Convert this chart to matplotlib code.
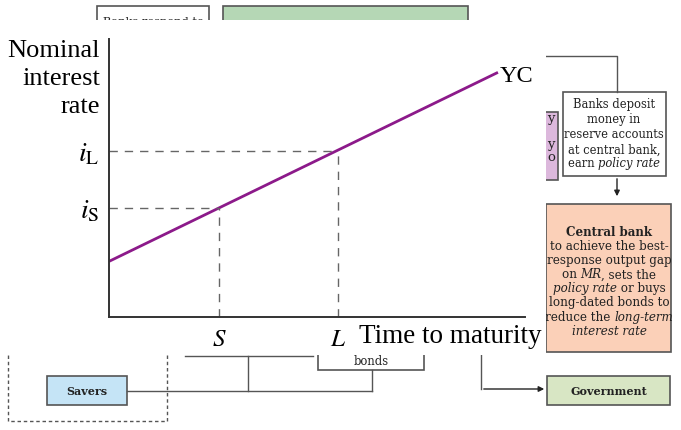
import matplotlib
matplotlib.use("Agg")
import matplotlib.pyplot as plt
from matplotlib.patches import Rectangle

plt.rcParams['font.family'] = ['Liberation Serif', 'DejaVu Serif']
plt.rcParams['mathtext.fontset'] = 'stix'

# ---- data ----
curve_x = [0.0, 9.35]
curve_y = [2.0, 8.8]
maturity_ticks = [2.65, 5.5]
maturity_labels = ['$S$', '$L$']
rate_ticks = [3.93, 5.97]
rate_labels = [r'$i_{\mathrm{S}}$', r'$i_{\mathrm{L}}$']

W, H = 681, 431
fig = plt.figure(figsize=(W/100, H/100), dpi=100)
renderer = fig.canvas.get_renderer()

# background flowchart (pixel coordinates)
bg = fig.add_axes([0, 0, 1, 1])
bg.set_xlim(0, W); bg.set_ylim(H, 0); bg.axis('off')
edge = '#555555'
FLOW_FONT = ['DejaVu Serif']
fs = 8.3

def box(x0, y0, x1, y1, fc='white', ls='-', lw=1.2, ec=edge):
    bg.add_patch(Rectangle((x0, y0), x1-x0, y1-y0, fc=fc, ec=ec, lw=lw, ls=ls))

def rich_line(xc, y, segments, size=fs, weight='normal'):
    objs, widths = [], []
    for s, it in segments:
        t = bg.text(0, y, s, fontsize=size, family=FLOW_FONT, fontweight=weight,
                    style='italic' if it else 'normal', ha='left', va='center',
                    color='#222222')
        objs.append(t)
        widths.append(t.get_window_extent(renderer).width)
    x = xc - sum(widths) / 2
    for t, w in zip(objs, widths):
        t.set_x(x)
        x += w

def rich_block(xc, ys, lines, size=fs):
    for y, segs in zip(ys, lines):
        rich_line(xc, y, segs, size)

# top
box(97, 7, 209, 45)
rich_line(153, 22, [('Banks respond to', False)], size=8.2)
box(223, 7, 468, 45, fc='#b5d7b5')
# right column
bg.plot([546, 617, 617], [57, 57, 93], color=edge, lw=1)
box(538, 113, 558, 181, fc='#dcb8dc')
rich_line(551, 119, [('y', False)], size=9.5)
rich_line(551, 145, [('y', False)], size=9.5)
rich_line(551, 158, [('o', False)], size=9.5)
box(563, 93, 666, 177)
rich_block(614, [105, 120, 135, 150, 164],
           [[('Banks deposit', False)], [('money in', False)],
            [('reserve accounts', False)], [('at central bank,', False)],
            [('earn ', False), ('policy rate', True)]], size=8.3)
bg.annotate('', xy=(617, 200), xytext=(617, 177),
            arrowprops=dict(arrowstyle='-|>', color='#222222', lw=1, mutation_scale=8))
box(546, 205, 671, 353, fc='#fbd0b8')
rich_line(609, 233, [('Central bank', False)], size=8.6, weight='bold')
rich_block(609, [247, 261, 275, 289, 303, 318, 332],
           [[('to achieve the best-', False)],
            [('response output gap', False)],
            [('on ', False), ('MR', True), (', sets the', False)],
            [('policy rate', True), (' or buys', False)],
            [('long-dated bonds to', False)],
            [('reduce the ', False), ('long-term', True)],
            [('interest rate', True)]], size=8.6)
# bottom
box(8, 340, 167, 422, ls=(0, (2.5, 2)), lw=1)
box(318, 330, 424, 371)
rich_line(371, 362, [('bonds', False)])
bg.plot([185, 313], [357, 357], color=edge, lw=1)
bg.plot([248, 248], [357, 392], color=edge, lw=1)
bg.plot([127, 372], [392, 392], color=edge, lw=1)
bg.plot([372, 372], [371, 392], color=edge, lw=1)
box(47, 377, 127, 406, fc='#c5e4f6')
rich_line(87, 392, [('Savers', False)], size=8.0, weight='bold')
bg.plot([481, 481], [340, 390], color=edge, lw=1)
bg.annotate('', xy=(547, 390), xytext=(481, 390),
            arrowprops=dict(arrowstyle='-|>', color='#222222', lw=1, mutation_scale=8))
box(547, 377, 670, 406, fc='#d8e6c4')
rich_line(609, 392, [('Government', False)], size=8.0, weight='bold')

# white panel of the chart
bg.add_patch(Rectangle((0, 21), 546, 335, fc='white', ec='none', zorder=5))

# main chart
ax = fig.add_axes([109/W, 1-318/H, (525-109)/W, (318-40)/H])
ax.patch.set_alpha(0)
ax.set_xlim(0, 10); ax.set_ylim(0, 10)
for s in ['top', 'right']:
    ax.spines[s].set_visible(False)
for s in ['left', 'bottom']:
    ax.spines[s].set_color('#333333'); ax.spines[s].set_linewidth(1.4)

ax.plot(curve_x, curve_y, color='#8c1a8a', lw=2.0, solid_capstyle='butt')
for xm, yr in zip(maturity_ticks, rate_ticks):
    ax.plot([0, xm], [yr, yr], color='#666666', lw=1, ls=(0, (6, 5)))
    ax.plot([xm, xm], [0, yr], color='#666666', lw=1, ls=(0, (6, 5)))

ax.set_xticks(maturity_ticks)
ax.set_xticklabels(maturity_labels, fontsize=18)
ax.set_yticks(rate_ticks)
ax.set_yticklabels(rate_labels, fontsize=20)
ax.tick_params(axis='x', length=0, pad=8)
ax.tick_params(axis='y', length=0, pad=7)
ax.text(curve_x[1] + 0.05, curve_y[1] - 0.12, 'YC', fontsize=17.5, ha='left', va='center')
ax.text(6.0, -0.68, 'Time to maturity', fontsize=19.5, ha='left', va='center')
fig.text(100/W, 1-40/H, 'Nominal\ninterest\nrate', ha='right', va='top', fontsize=19,
         linespacing=1.36)

fig.savefig('out.png', dpi=100)
